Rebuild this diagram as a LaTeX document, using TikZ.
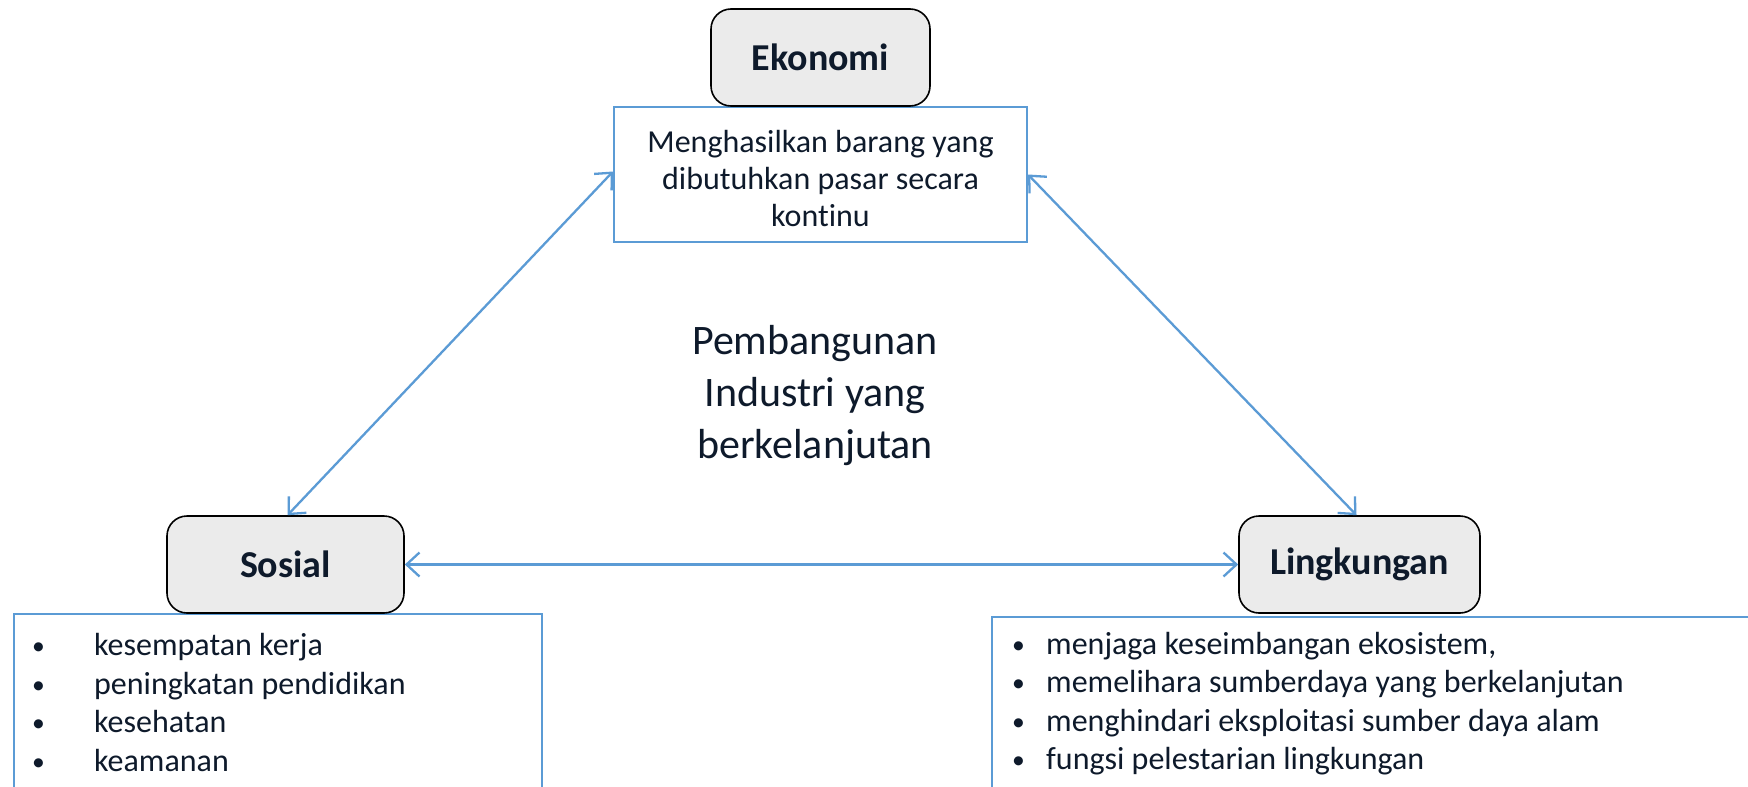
\documentclass[tikz,border=0pt]{standalone}
\usepackage{fontspec}
\setmainfont{Carlito}[Ligatures=NoCommon]
\usetikzlibrary{arrows.meta}
\definecolor{txt}{HTML}{0E1A2B}
\definecolor{blu}{HTML}{5B9BD5}
\definecolor{boxgray}{HTML}{EBEBEB}
\newcommand{\bul}[1]{\makebox[#1][l]{\raisebox{1pt}{\scalebox{0.8}{•}}}}
\tikzset{
  head/.style={draw=black, line width=1.6pt, fill=boxgray, rounded corners=20pt,
    font=\fontsize{38}{46}\selectfont\bfseries, text=txt, inner sep=0pt},
  infobox/.style={draw=blu, line width=2pt, fill=white, inner sep=0pt},
  bodytext/.style={font=\fontsize{32}{37}\selectfont, text=txt, inner sep=0pt},
  listtext/.style={font=\fontsize{32}{38.5}\selectfont, text=txt, inner sep=0pt, align=left, anchor=west},
  link/.style={draw=blu, line width=2.3pt, {Straight Barb[length=13pt,width=24pt]}-{Straight Barb[length=13pt,width=24pt]}},
}
\begin{document}
\begin{tikzpicture}[x=1pt,y=-1pt]
\clip (0,0) rectangle (1748,787);
\fill[white] (0,0) rectangle (1748,787);

% Ekonomi
\node[infobox, minimum width=413pt, minimum height=135pt] (ekobox) at (820.5,174.5) {};
\node[bodytext, align=center] (ekotext) at (820.5,179) {Menghasilkan barang yang\\dibutuhkan pasar secara\\kontinu};
\node[head, minimum width=219pt, minimum height=97pt] (eko) at (820.5,57.5) {Ekonomi};

% Sosial
\node[infobox, anchor=north west, minimum width=528pt, minimum height=220pt] (sosbox) at (13,613) {};
\node[listtext] (sostext) at (32,702.5)
  {\bul{62pt}kesempatan kerja\\
   \bul{62pt}peningkatan pendidikan\\
   \bul{62pt}kesehatan\\
   \bul{62pt}keamanan};
\node[head, minimum width=237pt, minimum height=97pt] (sos) at (285.5,564.5) {Sosial};

% Lingkungan
\node[infobox, anchor=north west, minimum width=800pt, minimum height=220pt] (lingbox) at (991,616) {};
\node[listtext] (lingtext) at (1012,703.5)
  {\bul{34pt}menjaga keseimbangan ekosistem,\\
   \bul{34pt}memelihara sumberdaya yang berkelanjutan\\
   \bul{34pt}menghindari eksploitasi sumber daya alam\\
   \bul{34pt}fungsi pelestarian lingkungan};
\node[head, minimum width=241pt, minimum height=97pt] (ling) at (1359.5,564.5) {Lingkungan};

% centre title
\node[font=\fontsize{42}{52}\selectfont, text=txt, align=center, inner sep=0pt] (title) at (815,396)
  {Pembangunan\\Industri yang\\berkelanjutan};

% connectors
\draw[link] ([yshift=3pt]ekobox.west) -- ([xshift=2pt]sos.north);
\draw[link] (ekobox.east) -- ([xshift=-3pt]ling.north);
\draw[link] (sos.east) -- (ling.west);
\end{tikzpicture}
\end{document}
